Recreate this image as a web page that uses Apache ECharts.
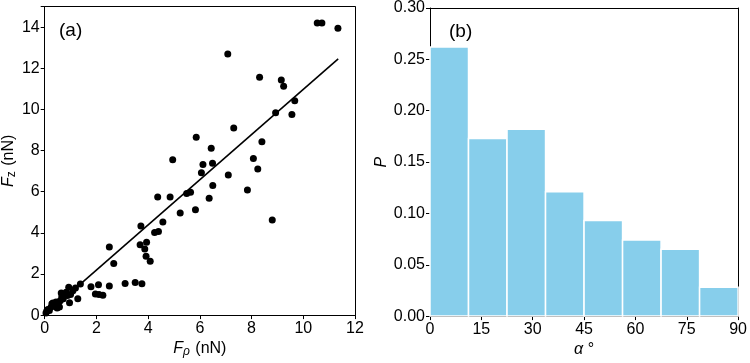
<!DOCTYPE html>
<html>
<head>
<meta charset="utf-8">
<script src="https://cdn.jsdelivr.net/npm/echarts@6/dist/echarts.min.js"></script>
<style>html,body{margin:0;padding:0;background:#fff}#c{width:750px;height:363px}</style>
</head>
<body>
<div id="c"></div>
<script>
// Panel (a): scatter points [F_rho, F_z] in nN
const scatterPoints = [
  [10.54,14.21],[10.72,14.21],[11.34,13.95],[7.08,12.70],[8.31,11.57],[9.15,11.43],[9.24,11.13],
  [9.67,10.43],[8.93,9.84],[9.56,9.76],[7.31,9.10],[5.86,8.65],[8.40,8.43],[6.44,8.11],[4.95,7.56],
  [8.07,7.62],[6.12,7.32],[6.49,7.38],[8.24,7.10],[6.06,6.92],[7.10,6.81],[6.50,6.30],[7.84,6.08],
  [5.49,5.91],[5.64,5.98],[4.37,5.75],[4.85,5.75],[6.36,5.68],[5.83,5.12],[5.24,4.97],[8.80,4.62],
  [4.57,4.53],[3.72,4.33],[4.25,4.02],[4.40,4.07],[2.50,3.31],[3.69,3.42],[3.94,3.54],[3.87,3.22],
  [3.92,2.86],[4.08,2.62],[2.67,2.51],[3.11,1.54],[3.50,1.59],[3.76,1.52],[2.50,1.42],[2.08,1.48],
  [1.79,1.38],[1.96,1.03],[2.10,1.00],[2.25,0.96],[1.38,1.51],[1.19,1.32],[1.28,0.80],[0.96,0.60],
  [0.05,0.10],[0.08,0.20],[0.12,0.27],[0.18,0.22],[0.25,0.40],[0.28,0.55],[0.32,0.59],[0.38,0.45],
  [0.44,0.64],[0.48,0.35],[0.52,0.55],[0.57,0.40],[0.60,0.70],[0.64,1.07],[0.66,0.88],[0.72,0.80],
  [0.75,1.00],[0.83,1.11],[0.88,0.95],[0.93,1.35],[1.00,1.00],[1.09,1.19]
];
// Linear fit line endpoints
const fitX = [0.05, 11.35];
const fitY = [0.05, 12.46];
// Panel (b): histogram of alpha (degrees)
const binEdges = [0, 11.25, 22.5, 33.75, 45, 56.25, 67.5, 78.75, 90];
const probs = [0.262, 0.173, 0.182, 0.121, 0.093, 0.074, 0.065, 0.028];
const xTicksA = [0, 12, 2];
const yTicksA = [0, 15, 2];
const xTicksB = [0, 90, 15];
const yTicksB = [0, 0.30, 0.05];

const FONT = '"Liberation Sans", Arial, sans-serif';
const FS = 16;
const chart = echarts.init(document.getElementById('c'), null, {renderer: 'canvas'});

const axisCommon = {
  axisLine: {show: true, lineStyle: {color: '#000', width: 1}},
  axisTick: {show: true, inside: false, length: 4, lineStyle: {color: '#000'}},
  splitLine: {show: false},
  axisLabel: {color: '#000', fontSize: FS, fontFamily: FONT, margin: 5}
};
const frameAxis = {
  axisLine: {show: true, onZero: false, lineStyle: {color: '#000', width: 1}},
  axisTick: {show: false}, axisLabel: {show: false}, splitLine: {show: false}
};
const nameStyleBase = {color: '#000', fontSize: FS, fontFamily: FONT};

const binData = probs.map((p, i) => [binEdges[i], binEdges[i + 1], p]);

chart.setOption({
  animation: false,
  backgroundColor: '#fff',
  title: [
    {text: '(a)', left: 54, top: 16, textStyle: {fontSize: 19, fontWeight: 'normal', fontFamily: FONT, color: '#000'}},
    {text: '(b)', left: 444, top: 17, textStyle: {fontSize: 19, fontWeight: 'normal', fontFamily: FONT, color: '#000'}}
  ],
  grid: [
    {left: 43.5, right: 395, top: 6.7, bottom: 41.3, containLabel: false},
    {left: 430, right: 8.3, top: 5.7, bottom: 41.3, containLabel: false}
  ],
  xAxis: [
    Object.assign({}, axisCommon, {
      type: 'value', gridIndex: 0, min: xTicksA[0], max: xTicksA[1], interval: xTicksA[2],
      name: '{i|F}{s|ρ} (nN)', nameLocation: 'middle', nameGap: 24,
      nameTextStyle: Object.assign({}, nameStyleBase, {rich: {
        i: {fontStyle: 'italic', fontSize: FS, fontFamily: FONT},
        s: {fontStyle: 'italic', fontSize: 12, fontFamily: FONT, verticalAlign: 'bottom', padding: [6, 1, 0, 0]}
      }})
    }),
    Object.assign({}, axisCommon, {
      type: 'value', gridIndex: 1, min: xTicksB[0], max: xTicksB[1], interval: xTicksB[2],
      name: '{i|α} °', nameLocation: 'middle', nameGap: 23,
      nameTextStyle: Object.assign({}, nameStyleBase, {rich: {
        i: {fontStyle: 'italic', fontSize: FS, fontFamily: FONT}
      }})
    }),
    Object.assign({}, frameAxis, {type: 'value', gridIndex: 0, position: 'top', min: xTicksA[0], max: xTicksA[1]}),
    Object.assign({}, frameAxis, {type: 'value', gridIndex: 1, position: 'top', min: xTicksB[0], max: xTicksB[1]})
  ],
  yAxis: [
    Object.assign({}, axisCommon, {
      type: 'value', gridIndex: 0, min: yTicksA[0], max: yTicksA[1], interval: yTicksA[2],
      axisLabel: Object.assign({}, axisCommon.axisLabel, {formatter: v => (v % 2 === 0 ? String(v) : '')}),
      name: '{i|F}{s|z} (nN)', nameLocation: 'middle', nameGap: 23, nameRotate: 90,
      nameTextStyle: Object.assign({}, nameStyleBase, {rich: {
        i: {fontStyle: 'italic', fontSize: FS, fontFamily: FONT},
        s: {fontSize: 12, fontFamily: FONT, verticalAlign: 'bottom', padding: [6, 1, 0, 0]}
      }})
    }),
    Object.assign({}, axisCommon, {
      type: 'value', gridIndex: 1, min: yTicksB[0], max: yTicksB[1], interval: yTicksB[2],
      axisLabel: Object.assign({}, axisCommon.axisLabel, {formatter: v => v.toFixed(2)}),
      name: 'P', nameLocation: 'middle', nameGap: 33, nameRotate: 90,
      nameTextStyle: Object.assign({}, nameStyleBase, {fontStyle: 'italic'})
    }),
    Object.assign({}, frameAxis, {type: 'value', gridIndex: 0, position: 'right', min: yTicksA[0], max: yTicksA[1]}),
    Object.assign({}, frameAxis, {type: 'value', gridIndex: 1, position: 'right', min: yTicksB[0], max: yTicksB[1]})
  ],
  series: [
    {
      type: 'scatter', xAxisIndex: 0, yAxisIndex: 0,
      data: scatterPoints, symbol: 'circle', symbolSize: 7,
      itemStyle: {color: '#000', opacity: 1}, z: 3
    },
    {
      type: 'line', xAxisIndex: 0, yAxisIndex: 0,
      data: fitX.map((x, i) => [x, fitY[i]]),
      showSymbol: false, symbol: 'none',
      lineStyle: {color: '#000', width: 1.6}, z: 2
    },
    {
      type: 'custom', xAxisIndex: 1, yAxisIndex: 1,
      data: binData,
      encode: {x: [0, 1], y: 2},
      renderItem: function (params, api) {
        const p0 = api.coord([api.value(0), api.value(2)]);
        const p1 = api.coord([api.value(1), 0]);
        return {
          type: 'rect',
          shape: {x: p0[0], y: p0[1], width: p1[0] - p0[0], height: p1[1] - p0[1]},
          style: {fill: '#87CEEB', stroke: '#ffffff', lineWidth: 1.5}
        };
      }
    }
  ]
});
</script>
</body>
</html>
